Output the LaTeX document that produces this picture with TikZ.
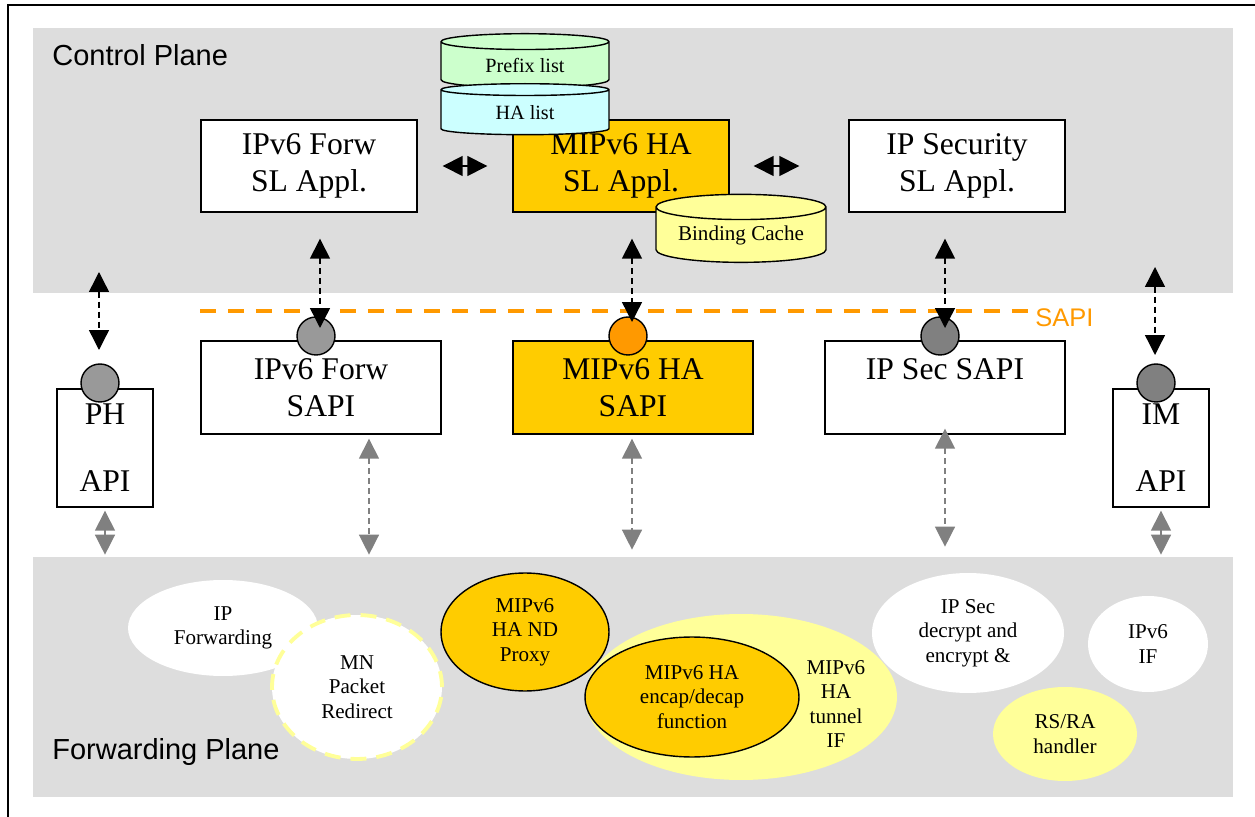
\documentclass[tikz,border=0pt]{standalone}
\usepackage{fontspec}
\setmainfont{Liberation Serif}
\setsansfont{Liberation Sans}
\usetikzlibrary{arrows.meta,calc,shapes.geometric}

\definecolor{planegray}{HTML}{DDDDDD}
\definecolor{haorange}{HTML}{FFCC00}
\definecolor{sapiorange}{HTML}{FF9900}
\definecolor{softyellow}{HTML}{FFFF99}
\definecolor{prefixgreen}{HTML}{CCFFCC}
\definecolor{hacyan}{HTML}{CCFFFF}
\definecolor{pinlight}{HTML}{999999}
\definecolor{pindark}{HTML}{808080}
\definecolor{arrowgray}{HTML}{808080}

\begin{document}
\begin{tikzpicture}[
  x=0.02cm, y=-0.02cm,
  plane/.style={fill=planegray, inner sep=0, minimum width=24cm},
  lbl/.style={font=\sffamily\fontsize{16.5}{19}\selectfont, anchor=west, inner sep=0},
  box/.style={draw, fill=white, line width=0.8pt, align=center, font=\fontsize{18}{21}\selectfont, execute at begin node=\rule{0pt}{17.5pt}, minimum width=4.32cm, minimum height=1.84cm},
  sapibox/.style={box, minimum width=4.8cm, minimum height=1.86cm},
  apibox/.style={box, minimum width=1.92cm, minimum height=2.36cm},
  drum/.style={cylinder, draw, line width=0.8pt, shape border rotate=90, aspect=0.2, inner sep=0, font=\fontsize{11.5}{13}\selectfont},
  pin/.style={circle, draw, line width=0.8pt, inner sep=0, minimum size=0.76cm},
  blob/.style={ellipse, inner sep=0, align=center, font=\fontsize{12}{14}\selectfont},
  dbl/.style={{Triangle[width=4mm,length=4mm]}-{Triangle[width=4mm,length=4mm]}, line width=0.8pt},
  blk/.style={dbl, dash pattern=on 1.2mm off 0.8mm},
  gry/.style={blk, arrowgray},
  gryshort/.style={dbl, arrowgray},
  sapiline/.style={draw=sapiorange, line width=2.2pt, dash pattern=on 3.2mm off 2.4mm}
]
\useasboundingbox (0,0) rectangle (1255,817);

% planes
\node[plane, minimum height=5.3cm] (ctrlplane) at (633,160.5) {};
\node[plane, minimum height=4.8cm] (fwdplane) at (633,677) {};
\node[lbl] (ctrllbl) at (52,55) {Control Plane};
\node[lbl] (fwdlbl) at (52,752) {Forwarding Plane};
\draw[line width=1.2pt] (8,817) -- (8,5) -- (1255,5);

% control plane
\node[box] (fwdsl) at (309,166) {IPv6 Forw\\SL Appl.};
\node[box, fill=haorange] (hasl) at (621,166) {MIPv6 HA\\SL Appl.};
\node[box] (secsl) at (957,166) {IP Security\\SL Appl.};
\node[drum, fill=prefixgreen, minimum width=3.36cm, minimum height=1.08cm] (prefix) at (525,65) {Prefix list};
\node[drum, fill=hacyan, minimum width=3.36cm, minimum height=1.02cm] (halist) at (525,112.5) {HA list};
\node[drum, fill=softyellow, minimum width=3.4cm, minimum height=1.36cm, font=\fontsize{12}{14}\selectfont] (cache) at (741,235) {Binding Cache};
\draw[dbl] ($(fwdsl.east)+(25,0)$) -- ($(hasl.west)+(-25,0)$);
\draw[dbl] ($(hasl.east)+(24,0)$) -- ($(secsl.west)+(-49,0)$);

% SAPI layer
\draw[sapiline] (200,311) -- (1028,311);
\node[font=\sffamily\fontsize{14.5}{17}\selectfont, text=sapiorange, anchor=west, inner sep=0] (sapilbl) at (1035,318) {SAPI};
\node[sapibox] (fwdsapi) at (321,387.5) {IPv6 Forw\\SAPI};
\node[sapibox, fill=haorange] (hasapi) at (633,387.5) {MIPv6 HA\\SAPI};
\node[sapibox] (secsapi) at (945,387.5) {IP Sec SAPI\\\mbox{}};
\node[apibox] (phapi) at (105,448) {PH\\[0.6cm]API};
\node[apibox] (imapi) at (1161,448) {IM\\[0.6cm]API};
\node[pin, fill=pinlight] (fwdpin) at (316,336) {};
\node[pin, fill=sapiorange] (hapin) at (628,336) {};
\node[pin, fill=pindark] (secpin) at (940,336) {};
\node[pin, fill=pinlight] (phpin) at (100,383) {};
\node[pin, fill=pindark] (impin) at (1156,383) {};

\coordinate (phtop) at (99,272);
\coordinate (imtop) at (1155,267);
\draw[blk] ($(fwdsl.south)+(11,26)$) -- ($(fwdpin.center)+(4,-8)$);
\draw[blk] ($(hasl.south)+(11,26)$) -- ($(hapin.center)+(4,-14)$);
\draw[blk] ($(secsl.south)+(-12,26)$) -- ($(secpin.center)+(5,-8)$);
\draw[blk] (phtop) -- ($(phpin.center)+(-1,-33)$);
\draw[blk] (imtop) -- ($(impin.center)+(-1,-28)$);

\draw[gry] ($(fwdsapi.south)+(48,4)$) -- ($(fwdsapi.south |- fwdplane.north)+(48,-2)$);
\draw[gry] ($(hasapi.south)+(-1,4)$) -- ($(hasapi.south |- fwdplane.north)+(-1,-7)$);
\draw[gry] ($(secsapi.south)+(0,-6)$) -- ($(secsapi.south |- fwdplane.north)+(0,-10)$);
\draw[gryshort] ($(phapi.south)+(0,3)$) -- ($(phapi.south |- fwdplane.north)+(0,-2)$);
\draw[gryshort] ($(imapi.south)+(0,3)$) -- ($(imapi.south |- fwdplane.north)+(0,-2)$);

% forwarding plane
\node[blob, fill=white, minimum width=3.8cm, minimum height=1.92cm] (ipfwd) at (223,628) {IP\\Forwarding};
\node[blob, fill=white, draw=softyellow, line width=2.2pt, dash pattern=on 3.2mm off 2mm, minimum width=3.4cm, minimum height=2.88cm] (mnred) at (357,687) {MN\\Packet\\Redirect};
\node[blob, fill=haorange, draw, line width=0.8pt, minimum width=3.36cm, minimum height=2.36cm] (ndproxy) at (525,632) {MIPv6\\HA ND\\Proxy};
\node[blob, fill=softyellow, minimum width=6.24cm, minimum height=3.32cm] (tunnel) at (741,697) {};
\node[blob] (tunnellbl) at (836,704) {MIPv6\\HA\\tunnel\\IF};
\node[blob, fill=haorange, draw, line width=0.8pt, minimum width=4.28cm, minimum height=2.4cm] (encap) at (692,697) {MIPv6 HA\\encap/decap\\function};
\node[blob, fill=white, minimum width=3.84cm, minimum height=2.4cm] (ipsec) at (968,633) {IP Sec\\decrypt and\\encrypt \&};
\node[blob, fill=white, minimum width=2.4cm, minimum height=1.92cm] (ipv6if) at (1148,644) {IPv6\\IF};
\node[blob, fill=softyellow, minimum width=2.88cm, minimum height=1.88cm] (rsra) at (1065,734) {RS/RA\\handler};
\end{tikzpicture}
\end{document}
